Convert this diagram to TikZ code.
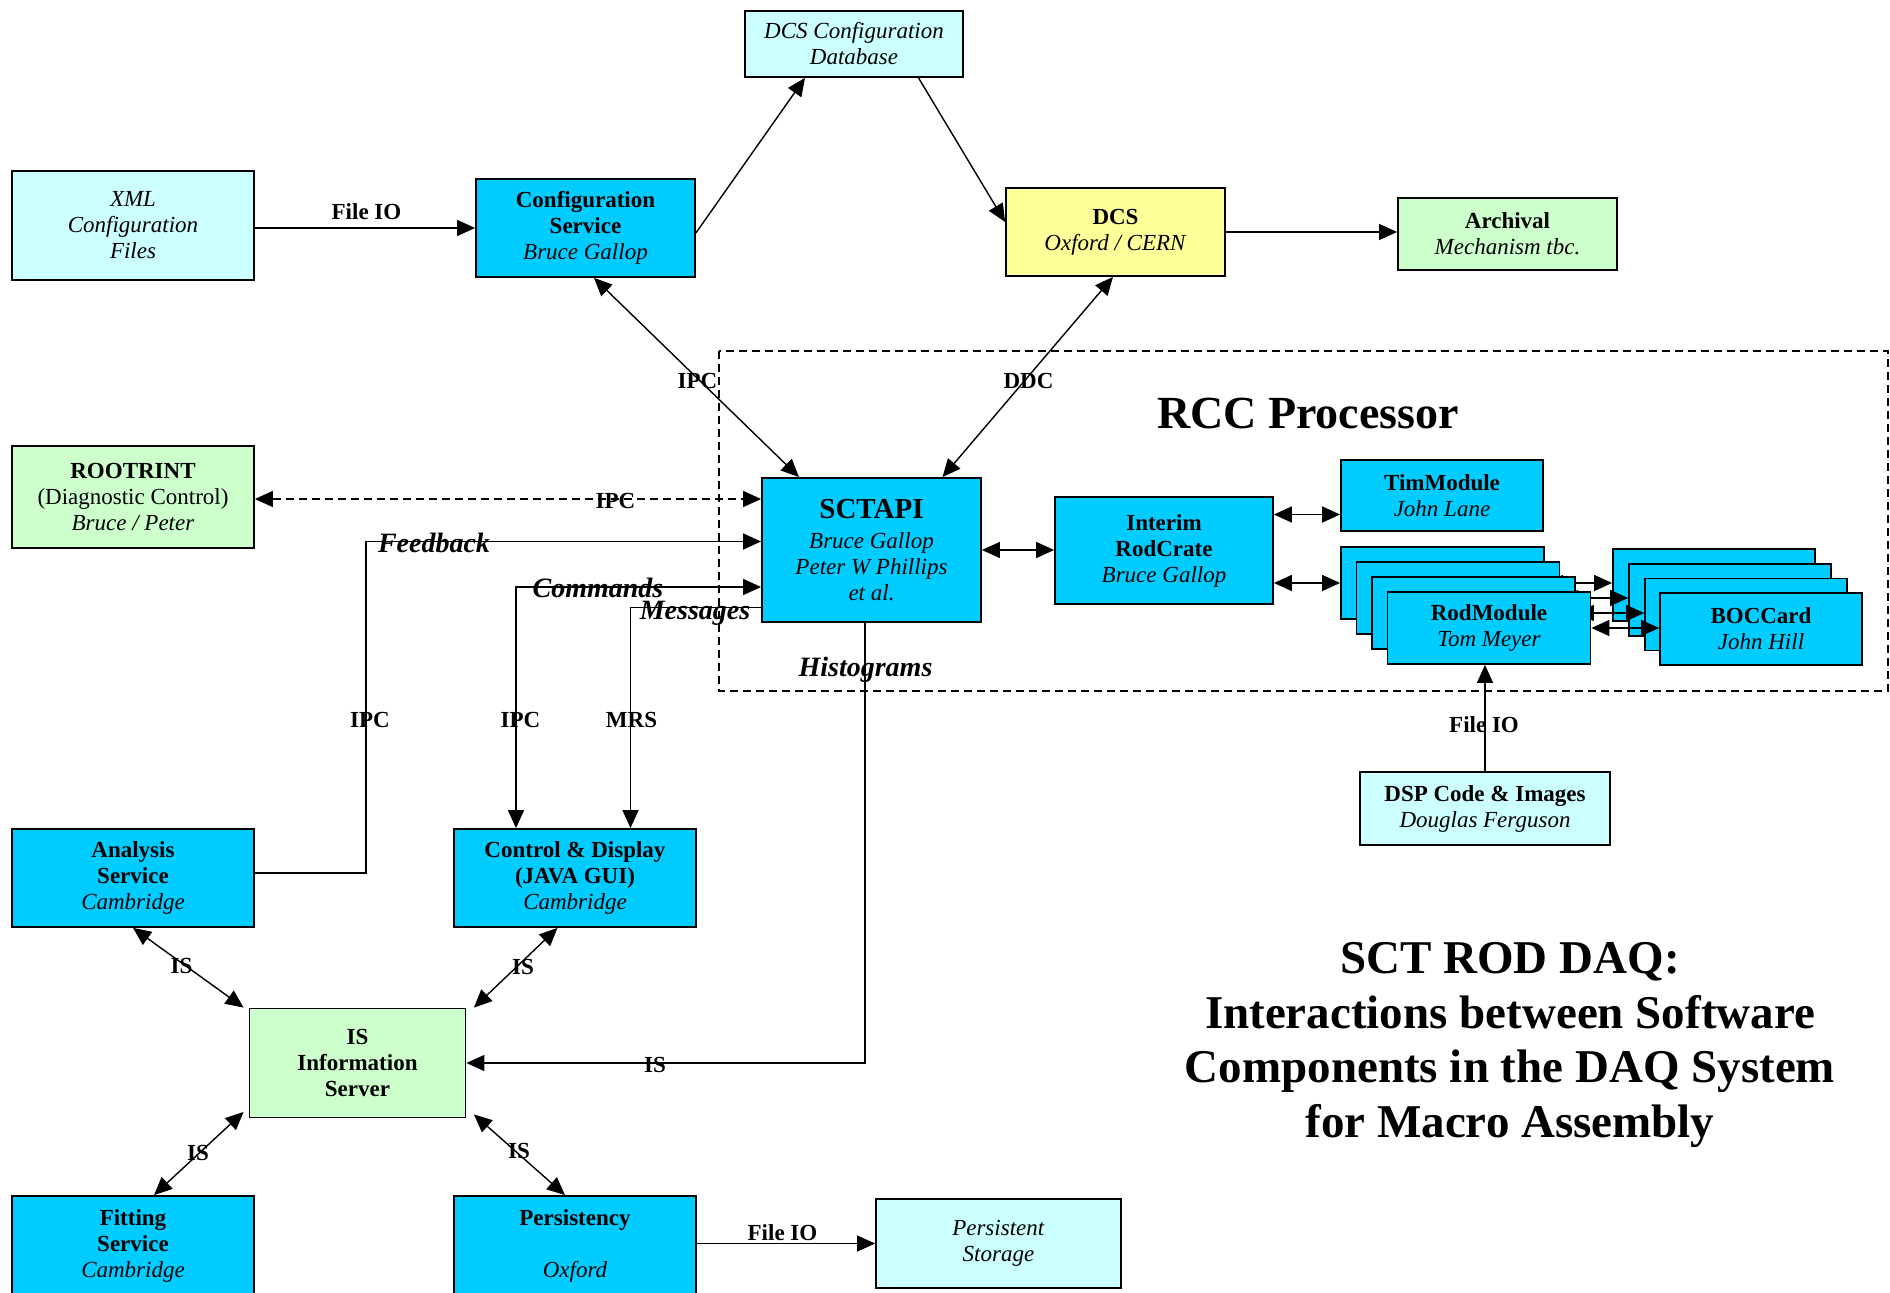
\documentclass[tikz,border=0pt]{standalone}
\usepackage{fontspec}
\setmainfont{Liberation Serif}
\usetikzlibrary{arrows.meta,calc}

\definecolor{boxblue}{HTML}{00CCFF}
\definecolor{boxpale}{HTML}{CCFFFF}
\definecolor{boxgreen}{HTML}{CCFFCC}
\definecolor{boxyellow}{HTML}{FFFF99}

\tikzset{
  blk/.style={draw=black, line width=0.9pt, rectangle, inner sep=0pt, align=center,
              font=\fontsize{11.5}{13}\selectfont},
  bluebox/.style={blk, fill=boxblue},
  palebox/.style={blk, fill=boxpale},
  greenbox/.style={blk, fill=boxgreen},
  yellowbox/.style={blk, fill=boxyellow},
  conn/.style={line width=0.7pt},
  tip/.tip={Triangle[length=9pt,width=8pt]},
  fwd/.style={conn, -tip},
  both/.style={conn, tip-tip},
  lbl/.style={inner sep=0pt, font=\fontsize{11.5}{13}\selectfont\bfseries},
  flow/.style={inner sep=0pt, font=\fontsize{14}{16}\selectfont\bfseries\itshape},
  region/.style={dashed, dash pattern=on 4pt off 2.5pt, line width=0.7pt},
}

\begin{document}
\begin{tikzpicture}[x=0.5pt, y=-0.5pt]
\useasboundingbox (0,0) rectangle (1890,1293);

% RCC processor region
\draw[region] (719,351) rectangle (1888,691);
\node[inner sep=0pt, font=\fontsize{23}{27}\selectfont\bfseries] (rcc) at (1308,414) {RCC Processor};

% top row
\node[palebox, minimum width=109pt, minimum height=33pt] (dcsdb) at (854,44)
  {\textit{DCS Configuration}\\\textit{Database}};
\node[palebox, minimum width=121pt, minimum height=54.5pt] (xml) at (133,225.5)
  {\textit{XML}\\\textit{Configuration}\\\textit{Files}};
\node[bluebox, minimum width=109.5pt, minimum height=49pt] (cfg) at (585.5,228)
  {\textbf{Configuration}\\\textbf{Service}\\\textit{Bruce Gallop}};
\node[yellowbox, minimum width=109.5pt, minimum height=44pt] (dcs) at (1115.5,232)
  {\textbf{DCS}\\\textit{Oxford / CERN}};
\node[greenbox, minimum width=109.5pt, minimum height=36pt] (arch) at (1507.5,234)
  {\textbf{Archival}\\\textit{Mechanism tbc.}};

% middle row
\node[greenbox, minimum width=121pt, minimum height=51pt] (root) at (133,497)
  {\textbf{ROOTRINT}\\(Diagnostic Control)\\\textit{Bruce / Peter}};
\node[bluebox, minimum width=109.5pt, minimum height=72pt] (sctapi) at (871.5,550)
  {{\fontsize{14.5}{16}\selectfont\bfseries SCTAPI}\\[2pt]\textit{Bruce Gallop}\\\textit{Peter W Phillips}\\\textit{et al.}};
\node[bluebox, minimum width=109pt, minimum height=53.5pt] (interim) at (1164,550.5)
  {\textbf{Interim}\\\textbf{RodCrate}\\\textit{Bruce Gallop}};
\node[bluebox, minimum width=101pt, minimum height=35.5pt] (tim) at (1442,495.5)
  {\textbf{TimModule}\\\textit{John Lane}};

% BOC card stack
\node[bluebox, minimum width=101pt, minimum height=36pt] (boc1) at (1714,585) {};
\node[bluebox, minimum width=101pt, minimum height=36pt] (boc2) at (1730,600) {};
\node[bluebox, minimum width=101pt, minimum height=36pt] (boc3) at (1746,614.5) {};
\node[bluebox, minimum width=101pt, minimum height=36pt] (boc4) at (1761,629)
  {\textbf{BOCCard}\\\textit{John Hill}};

% ROD module stack with its links to the BOC cards
\node[bluebox, minimum width=101.5pt, minimum height=36pt] (rod1) at (1442.5,583) {};
\draw[both] (rod1.east) -- (rod1.east -| boc1.west);
\node[bluebox, minimum width=101.5pt, minimum height=36pt] (rod2) at (1458,598) {};
\draw[both] (rod2.east) -- (rod2.east -| boc2.west);
\node[bluebox, minimum width=101.5pt, minimum height=36pt] (rod3) at (1473.5,613) {};
\draw[both] (rod3.east) -- (rod3.east -| boc3.west);
\node[bluebox, minimum width=101.5pt, minimum height=36pt] (rod4) at (1489,628)
  {\textbf{RodModule}\\\textit{Tom Meyer}};
\draw[both] (rod4.east) -- (rod4.east -| boc4.west);

\node[palebox, minimum width=125pt, minimum height=36.5pt] (dsp) at (1485,808.5)
  {\textbf{DSP Code \& Images}\\\textit{Douglas Ferguson}};

% lower left group
\node[bluebox, minimum width=121pt, minimum height=49pt] (ana) at (133,878)
  {\textbf{Analysis}\\\textbf{Service}\\\textit{Cambridge}};
\node[bluebox, minimum width=121pt, minimum height=49pt] (cd) at (575,878)
  {\textbf{Control \& Display}\\\textbf{(JAVA GUI)}\\\textit{Cambridge}};
\node[greenbox, minimum width=108pt, minimum height=54.5pt] (is) at (357.5,1063)
  {\textbf{IS}\\\textbf{Information}\\\textbf{Server}};
\node[bluebox, minimum width=121pt, minimum height=50pt] (fit) at (133,1246)
  {\textbf{Fitting}\\\textbf{Service}\\\textit{Cambridge}};
\node[bluebox, minimum width=121pt, minimum height=50pt] (pers) at (575,1246)
  {\textbf{Persistency}\\\mbox{}\\\textit{Oxford}};
\node[palebox, minimum width=122.5pt, minimum height=44.5pt] (store) at (998.5,1243.5)
  {\textit{Persistent}\\\textit{Storage}};

% connectors, top
\draw[fwd] (xml.east |- cfg.west) -- (cfg.west);
\node[lbl] (lxml) at (366.5,211.5) {File IO};
\draw[fwd] ($(cfg.east)+(0,5)$) -- ($(dcsdb.south)+(-49,0)$);
\draw[fwd] ($(dcsdb.south)+(64.5,0)$) -- ($(dcs.west)+(0,-10)$);
\draw[fwd] (dcs.east) -- (dcs.east -| arch.west);
\draw[both] ($(cfg.south)+(8.5,0)$) -- ($(sctapi.north)+(-72.5,0)$);
\node[lbl] (lipc1) at (697.5,381.5) {IPC};
\draw[both] ($(dcs.south)+(-2.5,0)$) -- ($(sctapi.north)+(71,0)$);
\node[lbl] (lddc) at (1028.5,381.5) {DDC};

% connectors into SCTAPI
\draw[both, region] (root.east |- 0,499) -- (sctapi.west |- 0,499);
\node[lbl] (lipc2) at (615.5,501.5) {IPC};
\draw[fwd] ($(ana.east)+(0,-5)$) -- ++(111,0) |- ($(sctapi.west)+(0,-8.5)$);
\node[flow] (lfeed) at (434,543) {Feedback};
\node[lbl] (lipc3) at (370,719.5) {IPC};
\draw[both] ($(sctapi.west)+(0,37)$) -| ($(cd.north)+(-59,0)$);
\node[flow] (lcmd) at (598,587.5) {Commands};
\node[lbl] (lipc4) at (520.5,719.5) {IPC};
\draw[fwd] ($(sctapi.west)+(0,57.5)$) -| ($(cd.north)+(55.5,0)$);
\node[flow] (lmsg) at (695,613) {Messages};
\node[lbl] (lmrs) at (631.5,719.5) {MRS};
\draw[fwd] ($(sctapi.south)+(-6.5,0)$) |- (is.east);
\node[flow] (lhist) at (865.5,670) {Histograms};
\node[lbl] (lis1) at (655,1064.5) {IS};

% RCC internals
\draw[both] (sctapi.east) -- (sctapi.east -| interim.west);
\draw[both] ($(interim.east)+(0,-36)$) -- ($(tim.west)+(0,19)$);
\draw[both] (rod1.west -| interim.east) -- (rod1.west);
\draw[fwd] (dsp.north) -- (dsp.north |- rod4.south);
\node[lbl] (ldsp) at (1484,725) {File IO};

% information server links
\draw[both] (ana.south) -- ($(is.north west)+(-5,0)$);
\node[lbl] (lis2) at (181.5,965.5) {IS};
\draw[both] ($(cd.south)+(-17.5,0)$) -- ($(is.north east)+(7.5,0)$);
\node[lbl] (lis3) at (523,966.5) {IS};
\draw[both] ($(is.south west)+(-5,-6.5)$) -- ($(fit.north)+(21,0)$);
\node[lbl] (lis4) at (198,1152.5) {IS};
\draw[both] ($(is.south east)+(7.5,-4)$) -- ($(pers.north)+(-10,0)$);
\node[lbl] (lis5) at (519,1151) {IS};
\draw[fwd] (pers.east |- store.west) -- (store.west);
\node[lbl] (lpers) at (782.5,1233) {File IO};

% title
\node[inner sep=0pt, align=center, font=\fontsize{23.5}{27.2}\selectfont\bfseries] (title) at (1510,1045)
  {SCT ROD DAQ:\\Interactions between Software\\Components in the DAQ System\\for Macro Assembly};
\end{tikzpicture}
\end{document}
